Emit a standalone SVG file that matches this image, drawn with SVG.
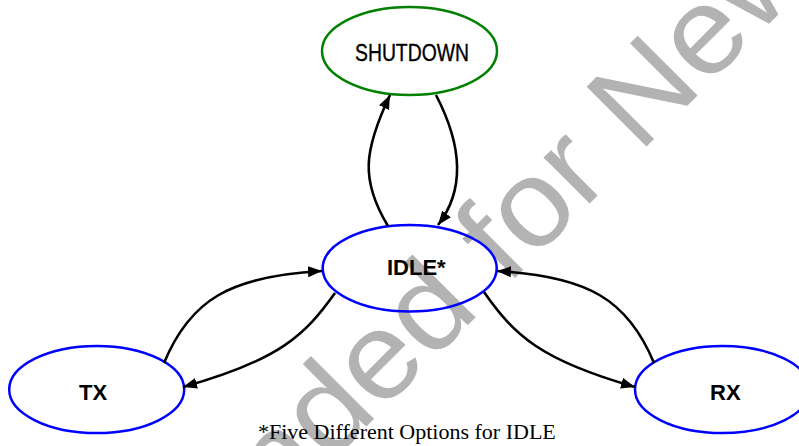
<svg xmlns="http://www.w3.org/2000/svg" width="799" height="446" viewBox="0 0 799 446">
<style>
.wm{font-family:"Liberation Sans",Arial,sans-serif;font-size:123px;fill:#b3b3b3}
.node{fill:none;stroke-width:2.5}
.blue{stroke:#0000ff}
.green{stroke:#008000}
.lbl{font-family:"Liberation Sans",Arial,sans-serif;font-weight:bold;font-size:22px;fill:#000}
.sd{font-family:"Liberation Sans Narrow","Liberation Sans",Arial,sans-serif;font-size:23px;fill:#000;stroke:#000;stroke-width:0.35}
.cap{font-family:"Liberation Serif","Times New Roman",serif;font-size:22px;fill:#000}
.edge{fill:none;stroke:#000;stroke-width:2.6}
</style>
<defs>
<marker id="arr" markerUnits="userSpaceOnUse" markerWidth="15" markerHeight="12" refX="14" refY="5.5" orient="auto">
<path d="M0,0 L14,5.5 L0,11 z" fill="#000"/>
</marker>
</defs>
<rect width="799" height="446" fill="#fff"/>
<text class="wm" transform="translate(646,147) rotate(-45) scale(1.05,1)" x="-1281" y="0">Not Recommended for New Designs</text>
<text class="cap" x="258" y="439">*Five Different Options for IDLE</text>
<g id="shutdown">
<ellipse class="node green" cx="409.5" cy="51" rx="87.5" ry="44"/>
<text class="sd" x="355" y="61" textLength="114" lengthAdjust="spacingAndGlyphs">SHUTDOWN</text>
</g>
<g id="idle">
<ellipse class="node blue" cx="409.7" cy="268.3" rx="87" ry="43.3"/>
<text class="lbl" x="387" y="275">IDLE*</text>
</g>
<g id="tx">
<ellipse class="node blue" cx="96.7" cy="389.5" rx="87.5" ry="43.5"/>
<text class="lbl" x="79" y="400">TX</text>
</g>
<g id="rx">
<ellipse class="node blue" cx="722.5" cy="389.5" rx="87.5" ry="43.5"/>
<text class="lbl" x="710" y="400">RX</text>
</g>
<g id="connectors">
<path class="edge" marker-end="url(#arr)" d="M388,226 C360,180 364,150 390,95"/>
<path class="edge" marker-end="url(#arr)" d="M436,95 C462,145 465,190 438,225"/>
<path class="edge" marker-end="url(#arr)" d="M164,363 C190,300 230,276 322,271"/>
<path class="edge" marker-end="url(#arr)" d="M335,293 C305,335 280,360 183,387"/>
<path class="edge" marker-end="url(#arr)" d="M654,363 C628,300 588,276 497,271"/>
<path class="edge" marker-end="url(#arr)" d="M484,292 C514,335 540,360 635,387"/>
</g>
</svg>
